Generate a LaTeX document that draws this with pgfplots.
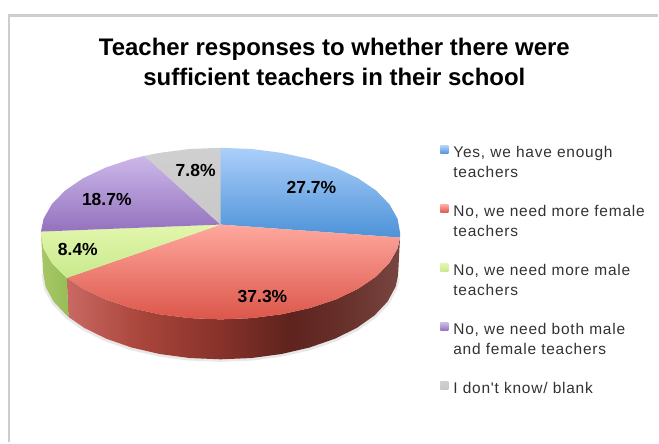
\documentclass[border=0pt]{standalone}
\usepackage{pgfplots}
\pgfplotsset{compat=1.18}
\usepackage{fontspec}
\setmainfont{Liberation Sans}
\newfontfamily\legendfont[LetterSpace=5]{Liberation Sans}

\definecolor{blueT}{RGB}{172,207,250}
\definecolor{blueB}{RGB}{76,146,216}
\definecolor{redT}{RGB}{255,168,158}
\definecolor{redB}{RGB}{220,86,74}
\definecolor{greenT}{RGB}{226,246,172}
\definecolor{greenB}{RGB}{200,234,140}
\definecolor{purpleT}{RGB}{204,184,234}
\definecolor{purpleB}{RGB}{148,114,190}
\definecolor{grayT}{RGB}{208,208,208}
\definecolor{grayB}{RGB}{200,200,200}
\definecolor{frame}{RGB}{205,205,205}
\definecolor{legtext}{RGB}{50,50,50}
% stops of the red side wall, bbox runs from 25bp to 75bp
\definecolor{sideA}{RGB}{200,105,98}
\definecolor{sideB}{RGB}{170,70,60}
\definecolor{sideC}{RGB}{135,50,42}
\definecolor{sideD}{RGB}{95,35,30}
\definecolor{sideE}{RGB}{105,50,45}
\definecolor{sideF}{RGB}{120,70,65}
\pgfdeclarehorizontalshading{redside}{100bp}{
    color(0bp)=(sideA); color(25bp)=(sideA); color(35.9bp)=(sideB); color(47.9bp)=(sideC);
    color(58.4bp)=(sideD); color(67.4bp)=(sideE); color(75bp)=(sideF); color(100bp)=(sideF)}

\begin{document}
\begin{tikzpicture}
\begin{axis}[
    scale only axis,
    width=659pt,
    height=443pt,
    xmin=0, xmax=659,
    ymin=0, ymax=443,
    y dir=reverse,
    ticks=none,
    axis line style={draw=none},
    clip=false,
    title={Teacher responses to whether there were\\sufficient teachers in their school},
    title style={at={(axis cs:335,68)}, anchor=center, align=center,
        font=\fontsize{24}{30}\selectfont\bfseries, text=black},
    legend image code/.code={\path[#1,overlay] (0pt,22.5pt) rectangle (8pt,30.5pt); \path (0pt,0pt) -- (13pt,0pt);},
    legend style={
        at={(axis cs:438,145)}, anchor=north west, draw=none, fill=none,
        font=\fontsize{15.5}{20}\selectfont\legendfont,
        text=legtext,
        nodes={text width=200pt, align=left, inner xsep=0pt, inner ysep=0pt,
            text height=11pt, text depth=48pt},
    },
    legend cell align=left,
]
% frame
\addplot[frame, line width=2.5pt, forget plot] coordinates {(9,443) (9,15.5) (659,15.5)};

% shadow
\addplot[fill={rgb,255:red,232;green,232;blue,232}, draw=none, forget plot] coordinates {
    (400.3,278.6) (397.8,289.8) (389.8,304.6) (376.7,318.5) (358.9,331.1) (336.9,341.9)
    (311.5,350.7) (283.4,357.2) (253.4,361.2) (221,362.5) (188.6,361.2) (158.6,357.2)
    (130.5,350.7) (105.1,341.9) (83.1,331.1) (65.3,318.5) (52.2,304.6) (44.2,289.8) (41.5,274.6)
} --cycle;

% sides
\addplot[draw=none, shade, shading=redside, forget plot] coordinates {
    (400.8,238) (398.3,248.9) (390.1,263.4) (376.9,277) (358.9,289.3) (336.7,299.9)
    (311,308.5) (282.6,314.8) (252.3,318.7) (221,320) (189.7,318.7) (159.4,314.8)
    (131,308.5) (105.3,299.9) (83.1,289.3) (66.9,278.4)
    (68.6,317.5) (84.6,328.6) (106.6,339.4) (132,348.2) (160.1,354.7) (190.1,358.7)
    (221,360) (251.9,358.7) (281.9,354.7) (310,348.2) (335.4,339.4) (357.4,328.6)
    (375.2,316) (388.3,302.1) (396.3,287.3) (398.8,276.1)
} --cycle;
\addplot[draw=none, left color={rgb,255:red,168;green,198;blue,104},
    right color={rgb,255:red,150;green,190;blue,85}, forget plot] coordinates {
    (41,232) (41,234) (43.7,248.9) (51.9,263.4) (65.1,277) (66.9,278.4)
    (68.6,317.5) (66.8,316) (53.7,302.1) (45.7,287.3) (43,272) (43,270)
} --cycle;

% top faces
\addplot[draw=none, top color=blueT, bottom color=blueB] coordinates {
    (221,225) (221,148) (252.3,149.3) (282.6,153.2) (311,159.5) (336.7,168.1)
    (358.9,178.7) (376.9,191) (390.1,204.6) (398.3,219.1) (401,234) (400.8,238)
} --cycle;
\addlegendentry{Yes, we have enough\\teachers}
\addplot[draw=none, top color=redT, bottom color=redB] coordinates {
    (221,225) (400.8,238) (398.3,248.9) (390.1,263.4) (376.9,277) (358.9,289.3)
    (336.7,299.9) (311,308.5) (282.6,314.8) (252.3,318.7) (221,320) (189.7,318.7)
    (159.4,314.8) (131,308.5) (105.3,299.9) (83.1,289.3) (66.9,278.4)
} --cycle;
\addlegendentry{No, we need more female\\teachers}
\addplot[draw=none, top color=greenT, bottom color=greenB] coordinates {
    (221,225) (66.9,278.4) (65.1,277) (51.9,263.4) (43.7,248.9) (41,234) (41,232)
} --cycle;
\addlegendentry{No, we need more male\\teachers}
\addplot[draw=none, top color=purpleT, bottom color=purpleB] coordinates {
    (221,225) (41,232) (43.7,219.1) (51.9,204.6) (65.1,191) (83.1,178.7)
    (105.3,168.1) (131,159.5) (144.9,156.1)
} --cycle;
\addlegendentry{No, we need both male\\and female teachers}
\addplot[draw=none, top color=grayT, bottom color=grayB] coordinates {
    (221,225) (144.9,156.1) (159.4,153.2) (189.7,149.3) (221,148)
} --cycle;
\addlegendentry{I don't know/ blank}

% percentages
\node[font=\fontsize{17.5}{20}\selectfont\bfseries] at (axis cs:312,188) {27.7\%};
\node[font=\fontsize{17.5}{20}\selectfont\bfseries] at (axis cs:263,297) {37.3\%};
\node[font=\fontsize{17.5}{20}\selectfont\bfseries] at (axis cs:78,250) {8.4\%};
\node[font=\fontsize{17.5}{20}\selectfont\bfseries] at (axis cs:107,200) {18.7\%};
\node[font=\fontsize{17.5}{20}\selectfont\bfseries] at (axis cs:196,171) {7.8\%};
\end{axis}
\end{tikzpicture}
\end{document}
